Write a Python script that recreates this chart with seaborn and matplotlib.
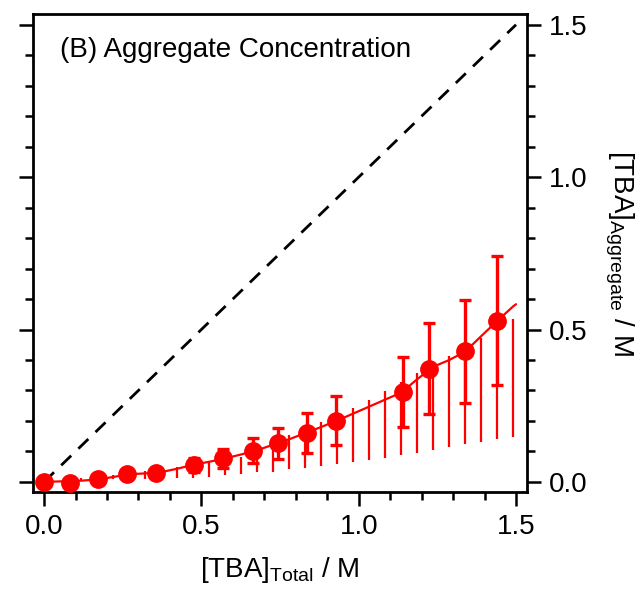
import matplotlib
matplotlib.use("Agg")
import matplotlib.pyplot as plt
from matplotlib.ticker import MultipleLocator
import seaborn as sns

# measured points (filled circles with capped error bars)
tba_total = [0.0, 0.082, 0.173, 0.263, 0.355, 0.478, 0.570, 0.663, 0.745, 0.835, 0.927, 1.140, 1.224, 1.338, 1.441]
tba_aggr = [0.0, -0.002, 0.008, 0.025, 0.029, 0.056, 0.077, 0.103, 0.127, 0.161, 0.201, 0.295, 0.372, 0.428, 0.529]
aggr_err = [0.004, 0.004, 0.006, 0.008, 0.010, 0.022, 0.030, 0.041, 0.051, 0.065, 0.080, 0.115, 0.148, 0.170, 0.212]

# model curve and its range (thin uncapped bars)
model_x = [0.0, 0.117, 0.168, 0.219, 0.270, 0.321, 0.371, 0.422, 0.473, 0.524, 0.575, 0.626,
           0.677, 0.728, 0.779, 0.830, 0.880, 0.931, 0.982, 1.033, 1.084, 1.135, 1.186,
           1.237, 1.288, 1.339, 1.389, 1.440, 1.491, 1.500]
model_y = [0.0, 0.004, 0.008, 0.016, 0.025, 0.028, 0.032, 0.043, 0.056, 0.066, 0.077, 0.090,
           0.104, 0.122, 0.140, 0.160, 0.180, 0.201, 0.224, 0.247, 0.270, 0.293, 0.337,
           0.378, 0.400, 0.428, 0.478, 0.528, 0.576, 0.583]
band_x = model_x[1:-1]
band_hi = [0.014, 0.020, 0.024, 0.030, 0.037, 0.043, 0.049, 0.058, 0.067, 0.075, 0.083,
           0.105, 0.132, 0.154, 0.175, 0.197, 0.220, 0.241, 0.268, 0.298, 0.328, 0.357,
           0.385, 0.413, 0.443, 0.473, 0.503, 0.533]
band_lo = [0.004, 0.006, 0.010, 0.010, 0.011, 0.012, 0.012, 0.014, 0.017, 0.022, 0.027,
           0.032, 0.034, 0.041, 0.047, 0.052, 0.058, 0.066, 0.072, 0.079, 0.088, 0.096,
           0.105, 0.114, 0.123, 0.130, 0.140, 0.149]

ident = [0.0, 1.5]

RED = "#ff0000"
FS = 20

sns.set_theme(style="ticks")
plt.rcParams["font.family"] = ["Liberation Sans", "DejaVu Sans"]
plt.rcParams["mathtext.fontset"] = "custom"
plt.rcParams["mathtext.rm"] = "Liberation Sans"
plt.rcParams["mathtext.it"] = "Liberation Sans:italic"
plt.rcParams["text.color"] = "black"
plt.rcParams["axes.labelcolor"] = "black"

fig = plt.figure(figsize=(6.4, 5.89), dpi=100)
ax = fig.add_axes([0.0516, 0.1647, 0.7719, 0.812])

# 1:1 reference line
sns.lineplot(x=ident, y=ident, ax=ax, color="black", lw=2.0, dashes=False,
             linestyle=(0, (5, 3.6)))
ax.vlines(band_x, band_lo, band_hi, color=RED, lw=1.6)
sns.lineplot(x=model_x, y=model_y, ax=ax, color=RED, lw=1.6)
ax.errorbar(tba_total, tba_aggr, yerr=aggr_err, fmt="o", color=RED, ms=12.5,
            elinewidth=2.4, capsize=4.5, capthick=2.4, zorder=5)

ax.set_xlim(-0.035, 1.535)
ax.set_ylim(-0.033, 1.536)
ax.xaxis.set_major_locator(MultipleLocator(0.5))
ax.xaxis.set_minor_locator(MultipleLocator(0.1))
ax.yaxis.set_major_locator(MultipleLocator(0.5))
ax.yaxis.set_minor_locator(MultipleLocator(0.1))
ax.xaxis.set_major_formatter(lambda v, p: f"{v:.1f}")
ax.yaxis.set_major_formatter(lambda v, p: f"{v:.1f}")

for s in ax.spines.values():
    s.set_linewidth(2.0)
    s.set_color("black")
ax.tick_params(axis="both", which="both", direction="out", width=1.8, colors="black",
               labelsize=FS, pad=6)
ax.tick_params(which="major", length=10)
ax.tick_params(which="minor", length=5.5)
ax.tick_params(axis="y", which="both", left=True, right=True, labelleft=False, labelright=True)
ax.tick_params(axis="x", which="both", top=False, bottom=True)

ax.set_xlabel(r"[TBA]$_{\mathrm{Total}}$ / M", fontsize=FS, labelpad=11)
ax.yaxis.set_label_position("right")
ax.set_ylabel(r"[TBA]$_{\mathrm{Aggregate}}$ / M", fontsize=FS, rotation=270, labelpad=34)

ax.text(0.055, 0.925, "(B) Aggregate Concentration", transform=ax.transAxes,
        fontsize=FS, va="center", ha="left")

fig.savefig("out.png", dpi=100)
